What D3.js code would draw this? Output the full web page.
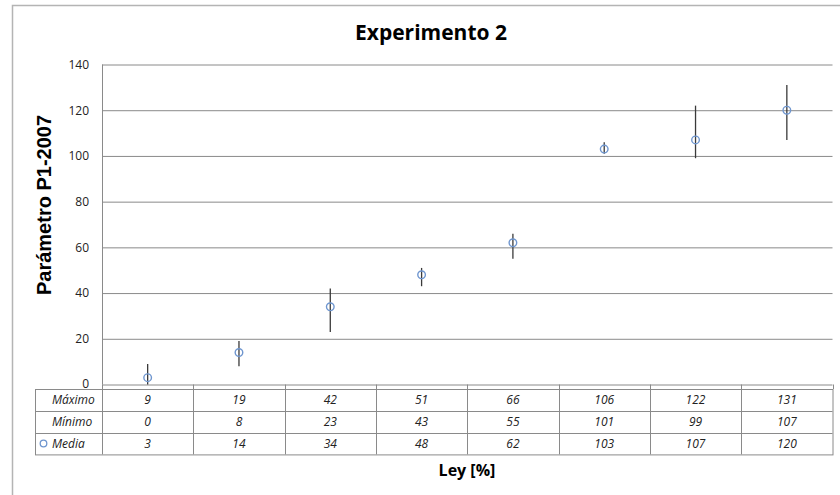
<!DOCTYPE html>
<html>
<head>
<meta charset="UTF-8">
<title>Experimento 2</title>
<script src="https://cdnjs.cloudflare.com/ajax/libs/d3/7.8.5/d3.min.js"></script>
<style>
body { margin: 0; background: #fff; }
svg { display: block; }
.tick text { font-family: "Open Sans", Lato, sans-serif; font-size: 12px; fill: #222; }
.cell { font-family: "Open Sans", Lato, sans-serif; font-size: 12px; font-style: italic; fill: #222; }
</style>
</head>
<body>
<div id="chart"></div>
<script>
// valores
var columnas = ["1", "2", "3", "4", "5", "6", "7", "8"];
var maximo = [9, 19, 42, 51, 66, 106, 122, 131];
var minimo = [0, 8, 23, 43, 55, 101, 99, 107];
var media  = [3, 14, 34, 48, 62, 103, 107, 120];
var filas  = ["Máximo", "Mínimo", "Media"];
var yTicks = [0, 20, 40, 60, 80, 100, 120, 140];

var width = 840, height = 495;
var plotLeft = 102, plotRight = 832.5, plotTop = 64.5, plotBottom = 384.5;
var tableTop = 389, rowH = 21.8, tableLeft = 35;

var svg = d3.select("#chart").append("svg")
    .attr("width", width)
    .attr("height", height);

// marco del grafico
svg.append("rect")
    .attr("x", 12.5).attr("y", 5.5)
    .attr("width", 900).attr("height", 600)
    .attr("fill", "none")
    .attr("stroke", "#b4b4b4")
    .attr("stroke-width", 1.5);

var x = d3.scaleBand().domain(columnas).range([plotLeft, plotRight]);
var y = d3.scaleLinear().domain([0, 140]).range([plotBottom, plotTop]);

// eje y + grilla
var yAxis = svg.append("g")
    .attr("transform", "translate(" + plotLeft + ",0)")
    .call(d3.axisLeft(y).tickValues(yTicks).tickSize(-(plotRight - plotLeft)).tickPadding(13));
yAxis.select(".domain").remove();
yAxis.selectAll(".tick line").attr("stroke", "#8a8a8a");
// el 0 queda pegado a la tabla, como en el original
yAxis.selectAll(".tick text").filter(function (d) { return d === 0; }).attr("dy", "0.22em");
svg.append("line")
    .attr("x1", plotLeft + 0.5).attr("x2", plotLeft + 0.5)
    .attr("y1", plotTop).attr("y2", plotBottom)
    .attr("stroke", "#8a8a8a");

// marcas del eje x
var bordes = columnas.map(function (c) { return x(c); }).concat([plotRight]);
svg.selectAll(".xtick")
    .data(bordes)
    .enter().append("line")
    .attr("class", "xtick")
    .attr("x1", function (d) { return Math.round(d) + 0.5; })
    .attr("x2", function (d) { return Math.round(d) + 0.5; })
    .attr("y1", plotBottom)
    .attr("y2", tableTop)
    .attr("stroke", "#8a8a8a");

// barras de error
svg.selectAll(".err")
    .data(columnas)
    .enter().append("line")
    .attr("class", "err")
    .attr("x1", function (d) { return x(d) + x.bandwidth() / 2; })
    .attr("x2", function (d) { return x(d) + x.bandwidth() / 2; })
    .attr("y1", function (d, i) { return y(maximo[i]); })
    .attr("y2", function (d, i) { return y(minimo[i]); })
    .attr("stroke", "#3a3a3a")
    .attr("stroke-width", 1.3);

// puntos de la media
svg.selectAll(".pt")
    .data(columnas)
    .enter().append("circle")
    .attr("class", "pt")
    .attr("cx", function (d) { return x(d) + x.bandwidth() / 2; })
    .attr("cy", function (d, i) { return y(media[i]); })
    .attr("r", 3.8)
    .attr("fill", "none")
    .attr("stroke", "#6f96cf")
    .attr("stroke-width", 1.4);

// tabla de datos
var tabla = svg.append("g").attr("class", "tabla");
var valores = [maximo, minimo, media];
var tableBottom = tableTop + rowH * filas.length;

tabla.append("rect")
    .attr("x", tableLeft + 0.5).attr("y", tableTop + 0.5)
    .attr("width", plotRight - tableLeft).attr("height", tableBottom - tableTop)
    .attr("fill", "none").attr("stroke", "#8a8a8a");

filas.forEach(function (f, r) {
    if (r > 0) {
        tabla.append("line")
            .attr("x1", tableLeft).attr("x2", plotRight)
            .attr("y1", Math.round(tableTop + r * rowH) + 0.5)
            .attr("y2", Math.round(tableTop + r * rowH) + 0.5)
            .attr("stroke", "#8a8a8a");
    }
});
tabla.selectAll(".vline")
    .data(bordes.slice(0, -1))
    .enter().append("line")
    .attr("x1", function (d) { return Math.round(d) + 0.5; })
    .attr("x2", function (d) { return Math.round(d) + 0.5; })
    .attr("y1", tableTop).attr("y2", tableBottom)
    .attr("stroke", "#8a8a8a");

filas.forEach(function (f, r) {
    var cy = tableTop + rowH * (r + 0.5) + 4.5;
    tabla.append("text")
        .attr("class", "cell")
        .attr("x", 52)
        .attr("y", cy)
        .text(f);
    tabla.selectAll(".v" + r)
        .data(valores[r])
        .enter().append("text")
        .attr("class", "cell")
        .attr("x", function (d, i) { return x(columnas[i]) + x.bandwidth() / 2; })
        .attr("y", cy)
        .attr("text-anchor", "middle")
        .text(function (d) { return d; });
});
// clave de la serie
tabla.append("circle")
    .attr("cx", 43.5).attr("cy", tableTop + rowH * 2.5)
    .attr("r", 3.3)
    .attr("fill", "none")
    .attr("stroke", "#6f96cf")
    .attr("stroke-width", 1.3);

// titulos
svg.append("text")
    .attr("x", 431).attr("y", 40)
    .attr("text-anchor", "middle")
    .style("font-family", "'Open Sans', Lato, sans-serif")
    .style("font-weight", "bold")
    .style("font-size", "21px")
    .text("Experimento 2");

svg.append("text")
    .attr("transform", "translate(51,205) rotate(-90)")
    .attr("text-anchor", "middle")
    .style("font-family", "'Liberation Sans', Arial, sans-serif")
    .style("font-weight", "bold")
    .style("font-size", "20px")
    .text("Parámetro P1-2007");

svg.append("text")
    .attr("x", 467).attr("y", 476)
    .attr("text-anchor", "middle")
    .style("font-family", "'Open Sans', Lato, sans-serif")
    .style("font-weight", "bold")
    .style("font-size", "16px")
    .text("Ley [%]");
</script>
</body>
</html>
